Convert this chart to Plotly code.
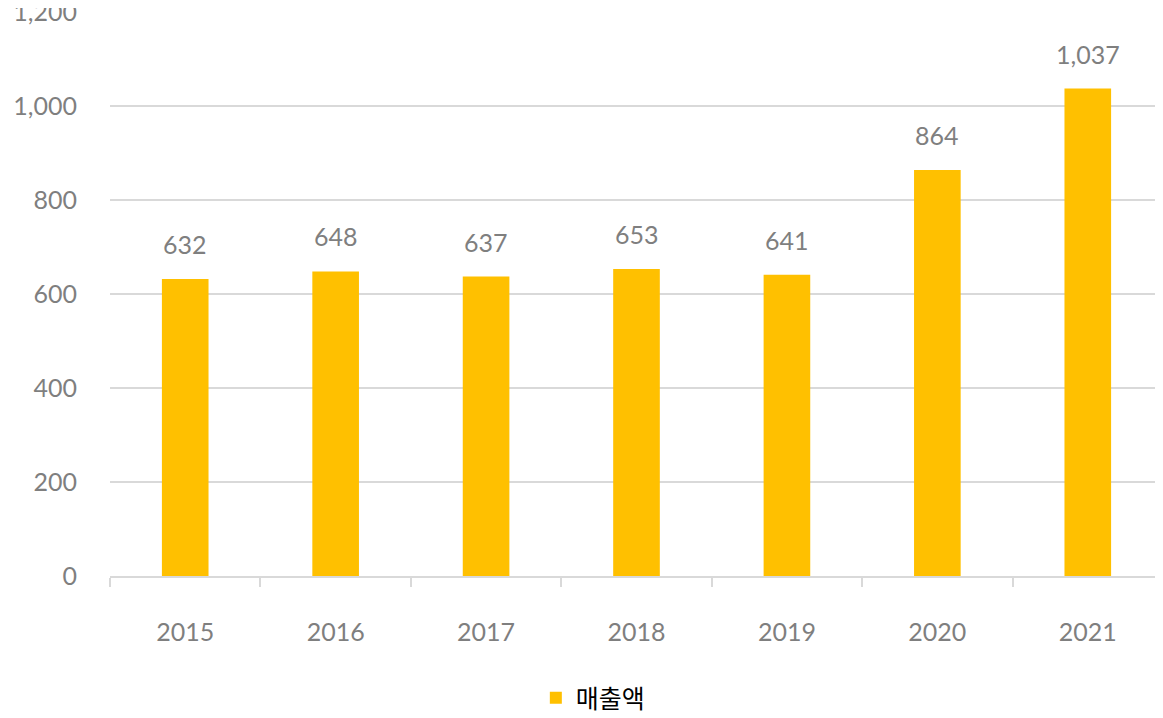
import plotly.graph_objects as go

years = ["2015", "2016", "2017", "2018", "2019", "2020", "2021"]
sales = [632, 648, 637, 653, 641, 864, 1037]
series_name = "매출액"
y_ticks = [0, 200, 400, 600, 800, 1000, 1200]

BAR = "#FFC000"
GRAY = "#7F7F7F"
GRID = "#D9D9D9"
FONT = "Lato, 'Noto Sans CJK KR', sans-serif"
KFONT = "'Noto Sans CJK KR', sans-serif"

fig = go.Figure()
fig.add_trace(go.Bar(
    x=years, y=sales, name=series_name, marker_color=BAR,
    marker_line_width=0, showlegend=True,
))

# value labels above bars (x given as category index so they don't alter autorange)
for i, y in enumerate(sales):
    fig.add_annotation(x=i, y=y, text=f"{y:,}", showarrow=False,
                       yanchor="bottom", yshift=18,
                       font=dict(size=25, color=GRAY, family=FONT))

fig.update_layout(
    width=1155, height=710,
    margin=dict(l=102, r=0, t=4, b=142, autoexpand=False),
    paper_bgcolor="white", plot_bgcolor="white",
    bargap=0.69,
    font=dict(family=FONT, size=25, color=GRAY),
    showlegend=True,
    legend=dict(orientation="h", x=0.457, xref="container", xanchor="left",
                y=0.028, yref="container", yanchor="middle",
                font=dict(size=25, color="#000000", family=KFONT)),
    xaxis=dict(type="category", range=[-0.5, len(years) - 0.5],
               showline=True, linecolor=GRID, linewidth=1.5,
               ticks="outside", tickson="boundaries", ticklen=9,
               tickcolor=GRID, tickwidth=1.5, tickangle=0,
               tickfont=dict(size=25, color=GRAY, family=FONT),
               ticklabelstandoff=33, showgrid=False),
    yaxis=dict(range=[0, 1200], tickvals=y_ticks,
               tickformat=",", showgrid=True, gridcolor=GRID, gridwidth=1.5,
               zeroline=False, showline=False, ticklabeloverflow="allow",
               tickfont=dict(size=25, color=GRAY, family=FONT),
               ticklabelstandoff=32),
)

fig.write_html("out.html")
